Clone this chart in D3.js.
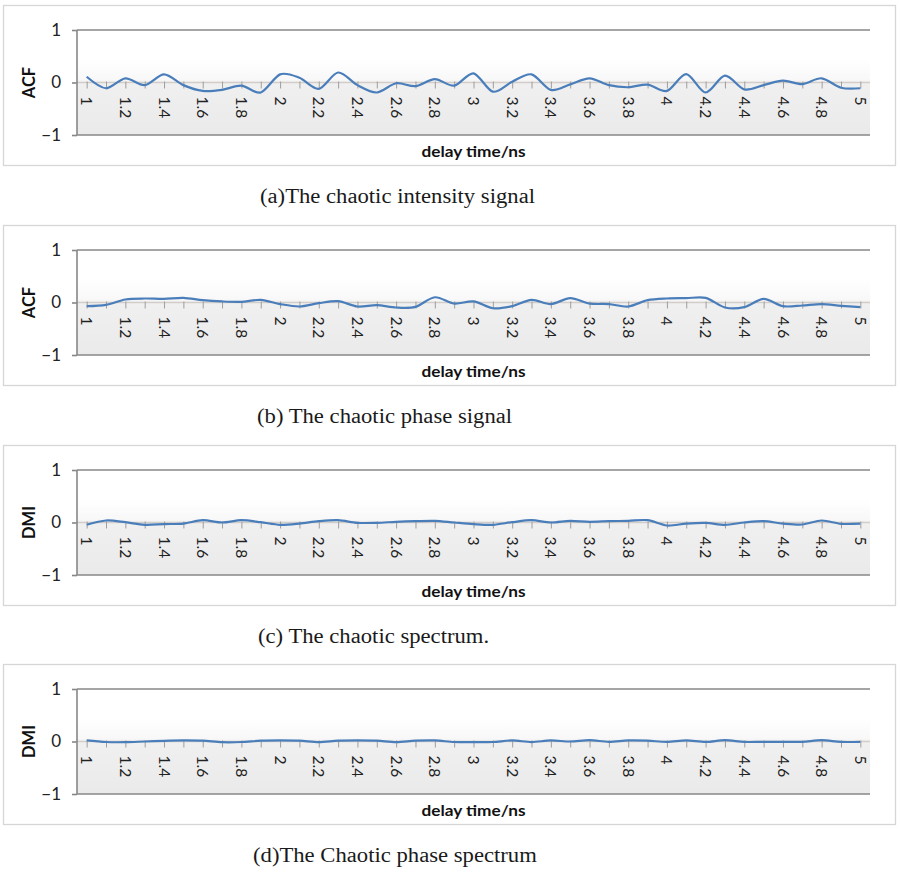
<!DOCTYPE html>
<html><head><meta charset="utf-8">
<script src="https://cdn.jsdelivr.net/npm/d3@7/dist/d3.min.js"></script>
<style>body{margin:0;background:#fff}svg{display:block}</style>
</head><body>
<svg id="c" width="900" height="874"></svg>
<script>
const categories = ["1","1.1","1.2","1.3","1.4","1.5","1.6","1.7","1.8","1.9",
  "2","2.1","2.2","2.3","2.4","2.5","2.6","2.7","2.8","2.9",
  "3","3.1","3.2","3.3","3.4","3.5","3.6","3.7","3.8","3.9",
  "4","4.1","4.2","4.3","4.4","4.5","4.6","4.7","4.8","4.9","5"];
const tickLabels = ["1","1.2","1.4","1.6","1.8","2","2.2","2.4","2.6","2.8",
  "3","3.2","3.4","3.6","3.8","4","4.2","4.4","4.6","4.8","5"];
const yTicks = [-1, 0, 1];

const intensityACF = [0.11,-0.11,0.08,-0.05,0.155,-0.05,-0.16,-0.14,-0.06,-0.19,
  0.155,0.09,-0.12,0.19,-0.05,-0.19,-0.015,-0.07,0.065,-0.06,
  0.175,-0.175,0.015,0.155,-0.14,-0.035,0.08,-0.05,-0.09,-0.04,
  -0.16,0.16,-0.19,0.13,-0.13,-0.05,0.035,-0.03,0.08,-0.1,-0.11];
const phaseACF = [-0.07,-0.045,0.057,0.076,0.07,0.089,0.044,0.02,0.013,0.05,
  -0.03,-0.076,-0.013,0.025,-0.076,-0.05,-0.095,-0.083,0.10,-0.02,
  0.02,-0.11,-0.07,0.05,-0.03,0.083,-0.02,-0.03,-0.076,0.044,
  0.076,0.083,0.089,-0.095,-0.089,0.07,-0.07,-0.057,-0.03,-0.063,-0.089];
const spectrumDMI = [-0.044,0.038,0.006,-0.044,-0.03,-0.02,0.044,0,0.044,0.006,
  -0.044,-0.02,0.025,0.044,-0.006,-0.006,0.013,0.025,0.032,0,
  -0.03,-0.044,0.006,0.044,0,0.032,0.013,0.025,0.032,0.044,
  -0.057,-0.02,-0.006,-0.044,0,0.025,-0.02,-0.038,0.038,-0.025,-0.02];
const phaseSpectrumDMI = [0.02,-0.01,-0.013,0,0.013,0.02,0.015,-0.013,-0.01,0.015,
  0.02,0.015,-0.013,0.015,0.02,0.015,-0.013,0.015,0.02,-0.01,
  -0.013,-0.01,0.02,-0.01,0.02,0,0.025,-0.006,0.02,0.015,
  -0.008,0.02,-0.008,0.025,-0.008,-0.006,-0.008,-0.006,0.025,-0.008,-0.006];

const yTitles = ["ACF", "ACF", "DMI", "DMI"];
const xTitle = "delay time/ns";
const captions = ["(a)The chaotic intensity signal", "(b) The chaotic phase signal",
  "(c) The chaotic spectrum.", "(d)The Chaotic phase spectrum"];

const seriesList = [intensityACF, phaseACF, spectrumDMI, phaseSpectrumDMI];
const offsets = [0, 220, 440, 659];
const capX = [260, 257, 258, 253];

const svg = d3.select("#c");
const defs = svg.append("defs");
const grad = defs.append("linearGradient").attr("id", "bg").attr("x1", 0).attr("y1", 0).attr("x2", 0).attr("y2", 1);
[[0, "#ffffff"], [0.28, "#ffffff"], [0.47, "#f8f8f8"], [0.5, "#f0f0f0"], [1, "#eaeaea"]]
  .forEach(([o, c]) => grad.append("stop").attr("offset", o).attr("stop-color", c));

const L = 77, R = 870;
const x = d3.scalePoint().domain(categories).range([L, R]).padding(0.5);
const sansFont = "Lato, Carlito, sans-serif";

// caption stretch factor
const probe = svg.append("text").attr("font-family", "Liberation Serif, Times New Roman, serif")
  .attr("font-size", 20).text(captions[0]);
const capFactor = 275 / probe.node().getComputedTextLength();
probe.remove();

seriesList.forEach((vals, i) => {
  const oy = offsets[i];
  const g = svg.append("g").attr("transform", `translate(0,${oy})`);
  const y = d3.scaleLinear().domain([-1, 1]).range([135, 30]);

  g.append("rect").attr("x", 3.5).attr("y", 5.5).attr("width", 892).attr("height", 160)
    .attr("fill", "#fff").attr("stroke", "#d6d6d6").attr("stroke-width", 1.3);

  g.append("rect").attr("x", L).attr("y", y(1)).attr("width", R - L).attr("height", y(-1) - y(1))
    .attr("fill", "url(#bg)");

  // zero line with ticks
  const xAxis = d3.axisBottom(x).tickSize(6).tickFormat("");
  const xa = g.append("g").attr("transform", `translate(0,${y(0)})`).call(xAxis);
  xa.select(".domain").attr("stroke", "#d2cdc8").attr("stroke-width", 1.3).attr("d", `M${L},0H${R}`);
  xa.selectAll(".tick line").attr("stroke", "#9e9e9e").attr("y1", -1);

  // top and bottom borders
  [1, -1].forEach(v => g.append("line").attr("x1", L).attr("x2", R).attr("y1", y(v)).attr("y2", y(v))
    .attr("stroke", "#878787").attr("stroke-width", 1.6));

  // y axis
  const yAxis = d3.axisLeft(y).tickValues(yTicks).tickSize(5).tickFormat(d3.format("d"));
  const ya = g.append("g").attr("transform", `translate(${L},0)`).call(yAxis);
  ya.select(".domain").attr("stroke", "#878787").attr("stroke-width", 1.6).attr("d", `M0,${y(1)}V${y(-1)}`);
  ya.selectAll(".tick line").attr("stroke", "#878787").attr("stroke-width", 1.6);
  ya.selectAll(".tick text").attr("font-family", sansFont).attr("font-size", 17)
    .attr("fill", "#222").attr("x", -16);

  // x tick labels (rotated)
  g.append("g").selectAll("text").data(tickLabels).join("text")
    .attr("transform", d => `translate(${x(d)},${y(0) + 14}) rotate(90)`)
    .attr("dy", "0.35em")
    .attr("font-family", sansFont).attr("font-size", 15.5).attr("fill", "#222")
    .text(d => d);

  // line
  const line = d3.line().x((d, j) => x(categories[j])).y(d => y(d)).curve(d3.curveCardinal.tension(0.1));
  g.append("path").datum(vals).attr("d", line).attr("fill", "none")
    .attr("stroke", "#4a7ebb").attr("stroke-width", 2.2).attr("stroke-linejoin", "round");

  // y title
  g.append("text").attr("transform", `translate(35,${y(0)}) rotate(-90)`).attr("text-anchor", "middle")
    .attr("font-family", sansFont).attr("font-weight", "bold").attr("font-size", 16.5)
    .attr("fill", "#111").text(yTitles[i]);

  // x title
  const xt = g.append("text").attr("x", (L + R) / 2).attr("y", 157).attr("text-anchor", "middle")
    .attr("font-family", sansFont).attr("font-weight", "bold").attr("font-size", 16)
    .attr("fill", "#111").text(xTitle);
  xt.attr("textLength", 104).attr("lengthAdjust", "spacingAndGlyphs");

  // caption
  const ct = g.append("text").attr("x", capX[i]).attr("y", 203)
    .attr("font-family", "Liberation Serif, Times New Roman, serif").attr("font-size", 20)
    .attr("fill", "#1a1a1a").text(captions[i]);
  ct.attr("textLength", ct.node().getComputedTextLength() * capFactor).attr("lengthAdjust", "spacingAndGlyphs");
});
</script>
</body></html>
